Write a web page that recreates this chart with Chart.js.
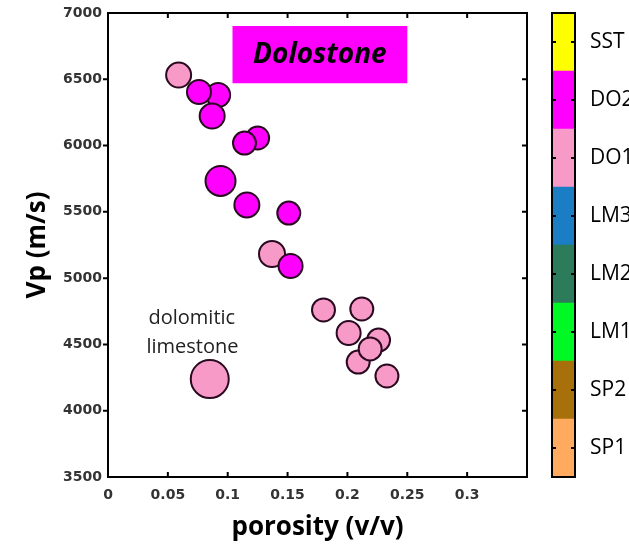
<!DOCTYPE html>
<html>
<head>
<meta charset="utf-8">
<script src="https://cdn.jsdelivr.net/npm/chart.js@4.4.0/dist/chart.umd.min.js"></script>
<style>
  html, body { margin: 0; padding: 0; background: #fff; }
  #wrap { position: relative; width: 629px; height: 546px; overflow: hidden; background: #fff; }
  #main { position: absolute; left: 0; top: 0; width: 540px; height: 546px; }
  #bar { position: absolute; left: 540px; top: 0; width: 89px; height: 546px; }
</style>
</head>
<body>
<div id="wrap">
  <div id="main"><canvas id="scatter"></canvas></div>
  <div id="bar"><canvas id="colorbar"></canvas></div>
</div>
<script>
// samples, in drawing order (later ones sit on top)
const POROSITY = [0.059, 0.092, 0.076, 0.087, 0.125, 0.114, 0.094, 0.116, 0.151, 0.137, 0.1525, 0.180, 0.212, 0.201, 0.226, 0.209, 0.219, 0.233, 0.085];
const VP       = [6532, 6381, 6404, 6223, 6057, 6019, 5733, 5552, 5491, 5182, 5092, 4760, 4767, 4586, 4533, 4367, 4466, 4262, 4239];
const SIZE     = [12.5, 12, 12, 12.5, 11.5, 11.5, 15, 12.5, 11.5, 13, 12, 11.5, 11.5, 12, 11.5, 11.5, 11.5, 11.5, 19];
const FACIES   = ["DO1", "DO2", "DO2", "DO2", "DO2", "DO2", "DO2", "DO2", "DO2", "DO1", "DO2", "DO1", "DO1", "DO1", "DO1", "DO1", "DO1", "DO1", "DO1"];

const X_TICKS = [0, 0.05, 0.1, 0.15, 0.2, 0.25, 0.3];
const Y_TICKS = [3500, 4000, 4500, 5000, 5500, 6000, 6500, 7000];

// colour bar, bottom to top
const FACIES_LABELS = ["SP1", "SP2", "LM1", "LM2", "LM3", "DO1", "DO2", "SST"];
const FACIES_COLORS = {
  SP1: "#FFAA5E", SP2: "#A8700A", LM1: "#00F824", LM2: "#2C7B5A",
  LM3: "#1B7DC4", DO1: "#F89AC8", DO2: "#FF00FF", SST: "#FFFF00",
};

const TICK_FONT = { family: "DejaVu Sans", size: 14, weight: "bold" };
const TITLE_FONT = { family: "Open Sans", size: 26, weight: "bold" };

// keep the plot box exactly where the layout padding puts it
const noEdgePadding = (s) => {
  s.paddingTop = 0; s.paddingBottom = 0; s.paddingLeft = 0; s.paddingRight = 0;
};

// frame round the plot with small tick marks
const frameTicks = {
  id: "frameTicks",
  afterDraw(chart) {
    const { ctx, chartArea: a, scales } = chart;
    const len = 5;
    ctx.save();
    ctx.strokeStyle = "#000";
    ctx.lineWidth = 2;
    ctx.strokeRect(a.left, a.top, a.right - a.left, a.bottom - a.top);
    ctx.beginPath();
    X_TICKS.forEach((v) => {
      const px = scales.x.getPixelForValue(v);
      if (px <= a.left + 1) return;
      ctx.moveTo(px, a.bottom); ctx.lineTo(px, a.bottom - len);
      ctx.moveTo(px, a.top); ctx.lineTo(px, a.top + len);
    });
    Y_TICKS.forEach((v) => {
      const py = scales.y.getPixelForValue(v);
      if (py >= a.bottom - 1 || py <= a.top + 1) return;
      ctx.moveTo(a.left, py); ctx.lineTo(a.left - len, py);
      ctx.moveTo(a.right, py); ctx.lineTo(a.right - len, py);
    });
    ctx.stroke();
    ctx.restore();
  },
};

// title box and the text note, placed in data units
const notes = {
  id: "notes",
  beforeDatasetsDraw(chart) {
    const { ctx, scales: { x, y } } = chart;
    ctx.save();
    const x0 = x.getPixelForValue(0.104), x1 = x.getPixelForValue(0.25);
    const y0 = y.getPixelForValue(6902), y1 = y.getPixelForValue(6470);
    ctx.fillStyle = "#FF00FF";
    ctx.fillRect(x0, y0, x1 - x0, y1 - y0);
    ctx.fillStyle = "#000";
    ctx.textAlign = "center";
    ctx.textBaseline = "middle";
    ctx.font = "italic bold 28px 'Open Sans'";
    ctx.fillText("Dolostone", (x0 + x1) / 2, (y0 + y1) / 2);
    ctx.font = "20px 'Open Sans'";
    ctx.fillStyle = "#222";
    ctx.fillText("dolomitic", x.getPixelForValue(0.07), y.getPixelForValue(4699));
    ctx.fillText("limestone", x.getPixelForValue(0.0705), y.getPixelForValue(4481));
    ctx.restore();
  },
};

new Chart(document.getElementById("scatter"), {
  type: "bubble",
  data: {
    datasets: [{
      data: POROSITY.map((p, i) => ({ x: p, y: VP[i], r: SIZE[i] })),
      backgroundColor: FACIES.map((f) => FACIES_COLORS[f]),
      borderColor: "#2a0a20",
      borderWidth: 2,
    }],
  },
  options: {
    animation: false,
    responsive: true,
    maintainAspectRatio: false,
    events: [],
    layout: { autoPadding: false, padding: { left: 0, top: 13, right: 13, bottom: 0 } },
    plugins: { legend: { display: false }, tooltip: { enabled: false } },
    scales: {
      x: {
        type: "linear",
        min: 0,
        max: 0.35,
        afterBuildTicks: (s) => { s.ticks = X_TICKS.map((v) => ({ value: v })); },
        afterFit: (s) => { s.height = 69; noEdgePadding(s); },
        grid: { display: false, drawTicks: false },
        border: { display: false },
        ticks: {
          padding: 10,
          color: "#333",
          font: TICK_FONT,
          maxRotation: 0,
          autoSkip: false,
          callback: (v) => String(+v.toFixed(2)),
        },
        title: { display: true, text: "porosity (v/v)", color: "#000", font: TITLE_FONT, padding: { top: 0, bottom: 3 } },
      },
      y: {
        type: "linear",
        min: 3500,
        max: 7000,
        afterBuildTicks: (s) => { s.ticks = Y_TICKS.map((v) => ({ value: v })); },
        afterFit: (s) => { s.width = 108; noEdgePadding(s); },
        grid: { display: false, drawTicks: false },
        border: { display: false },
        ticks: { padding: 6, color: "#333", font: TICK_FONT, autoSkip: false, callback: (v) => String(v) },
        title: { display: true, text: "Vp (m/s)", color: "#000", font: TITLE_FONT, padding: { top: 22, bottom: 0 } },
      },
    },
  },
  plugins: [notes, frameTicks],
});

// frame and centre marks on the colour bar
const barFrame = {
  id: "barFrame",
  afterDraw(chart) {
    const { ctx, chartArea: a, scales } = chart;
    const len = 4;
    ctx.save();
    ctx.strokeStyle = "#000";
    ctx.lineWidth = 2;
    ctx.strokeRect(a.left, a.top, a.right - a.left, a.bottom - a.top);
    ctx.beginPath();
    FACIES_LABELS.forEach((_, i) => {
      const py = scales.y.getPixelForValue(i + 0.5);
      ctx.moveTo(a.left, py); ctx.lineTo(a.left + len, py);
      ctx.moveTo(a.right, py); ctx.lineTo(a.right - len, py);
    });
    ctx.stroke();
    ctx.restore();
  },
};

new Chart(document.getElementById("colorbar"), {
  type: "bar",
  data: {
    labels: [""],
    datasets: FACIES_LABELS.map((f) => ({
      label: f,
      data: [1],
      backgroundColor: FACIES_COLORS[f],
      borderWidth: 0,
      barPercentage: 1,
      categoryPercentage: 1,
    })),
  },
  options: {
    animation: false,
    responsive: true,
    maintainAspectRatio: false,
    events: [],
    layout: { autoPadding: false, padding: { left: 12, top: 13, right: 0, bottom: 69 } },
    plugins: { legend: { display: false }, tooltip: { enabled: false } },
    scales: {
      x: { stacked: true, display: false },
      y: {
        stacked: true,
        position: "right",
        min: 0,
        max: 8,
        afterBuildTicks: (s) => { s.ticks = FACIES_LABELS.map((_, i) => ({ value: i + 0.5 })); },
        afterFit: (s) => { s.width = 54; noEdgePadding(s); },
        grid: { display: false, drawTicks: false },
        border: { display: false },
        ticks: {
          padding: 15,
          color: "#000",
          autoSkip: false,
          font: { family: "Open Sans", size: 21 },
          callback: (v, i) => FACIES_LABELS[i],
        },
      },
    },
  },
  plugins: [barFrame],
});
</script>
</body>
</html>
